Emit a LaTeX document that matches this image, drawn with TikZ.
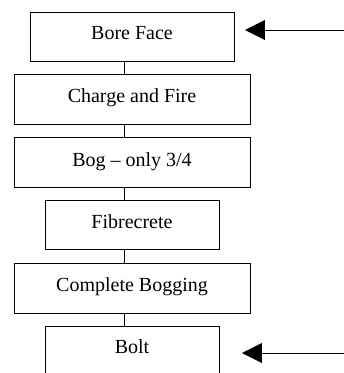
\documentclass[tikz,border=0pt]{standalone}
\usepackage{fontspec}
\setmainfont{Liberation Serif}
\usetikzlibrary{arrows.meta}
\begin{document}
\begin{tikzpicture}[x=0.6pt,y=-0.6pt,line width=0.6pt,
  boxst/.style={draw=black},
  lbl/.style={anchor=base,inner sep=0pt,font=\fontsize{12}{14}\selectfont},
  link/.style={draw=black},
  feed/.style={draw=black,-{Triangle[length=12pt,width=12pt]}}]
\useasboundingbox (0,0) rectangle (344,373);
\begin{scope}
\clip (0,0) rectangle (344,373);
\draw[boxst] (31,12) rectangle (235,61);
\draw[boxst] (15,74) rectangle (251,124);
\draw[boxst] (15,137) rectangle (251,187);
\draw[boxst] (46,200) rectangle (220,249);
\draw[boxst] (15,263) rectangle (251,313);
\draw[boxst] (46,326) rectangle (220,390);
\end{scope}
\node[lbl] (t1) at (132,39) {Bore Face};
\node[lbl] (t2) at (132,102) {Charge and Fire};
\node[lbl] (t3) at (132,166) {Bog -- only 3/4};
\node[lbl] (t4) at (132,228) {Fibrecrete};
\node[lbl] (t5) at (132,291) {Complete Bogging};
\node[lbl] (t6) at (132,353) {Bolt};
\coordinate (b1) at (125,61); \coordinate (c1) at (125,74);
\coordinate (b2) at (125,124); \coordinate (c2) at (125,137);
\coordinate (b3) at (125,187); \coordinate (c3) at (125,200);
\coordinate (b4) at (125,249); \coordinate (c4) at (125,263);
\coordinate (b5) at (125,313); \coordinate (c5) at (125,326);
\draw[link] (b1) -- (c1);
\draw[link] (b2) -- (c2);
\draw[link] (b3) -- (c3);
\draw[link] (b4) -- (c4);
\draw[link] (b5) -- (c5);
\coordinate (s1) at (344,30); \coordinate (e1) at (245,30);
\coordinate (s2) at (344,353); \coordinate (e2) at (242,353);
\draw[feed] (s1) -- (e1);
\draw[feed] (s2) -- (e2);
\end{tikzpicture}
\end{document}
